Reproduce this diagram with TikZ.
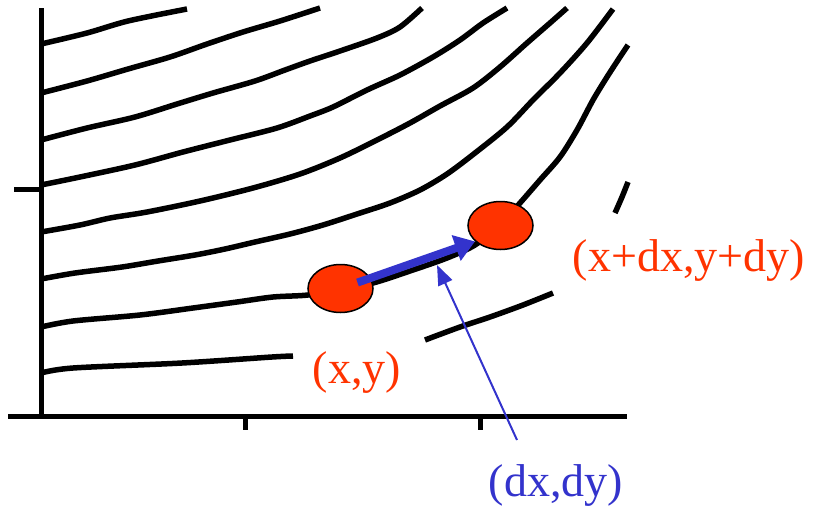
\documentclass[tikz,border=0pt]{standalone}
\usepackage{fontspec}
\setmainfont{Liberation Serif}
\usepackage{tikz}
\usetikzlibrary{arrows.meta,shapes.geometric}

\definecolor{dotred}{RGB}{255,51,0}
\definecolor{stepblue}{RGB}{51,51,204}

\begin{document}
\begin{tikzpicture}[
  x=1pt, y=-1pt,
  font=\fontsize{46}{52}\selectfont,
  axis/.style={line width=5pt},
  level/.style={line width=5.5pt, smooth, tension=0.5},
  dot/.style={draw, ellipse, fill=dotred, line width=1.5pt,
    minimum width=65pt, minimum height=48pt, inner sep=0pt},
  lbl/.style={inner sep=0pt},
  bigarrow/.style={stepblue, line width=8pt,
    -{Triangle[length=20pt,width=26pt]}},
  thinarrow/.style={stepblue, line width=2pt,
    -{Triangle[length=20pt,width=15pt]}},
]
  \useasboundingbox (0,0) rectangle (814,509);

  % axes and ticks
  \draw[axis] (41,8) -- (41,418);
  \draw[axis] (8,416) -- (627,416);
  \draw[axis] (14,189) -- (41,189);
  \draw[axis] (245,416) -- (245,430);
  \draw[axis] (480,416) -- (480,430);

  % level curves
  \draw[level] plot coordinates {(41,44) (87,33) (128,21) (187,9)};
  \draw[level] plot coordinates {(41,93) (87,81) (128,69) (170,57) (207,44)
    (243,32) (280,21) (320,8)};
  \draw[level] plot coordinates {(41,140) (87,128) (135,117) (177,104)
    (213,93) (255,81) (285,70) (310,61) (340,51) (377,38) (400,27) (422,8)};
  \draw[level] plot coordinates {(41,185) (80,177) (135,165) (183,152)
    (230,140) (277,128) (310,116) (333,107) (367,90) (400,75) (433,57)
    (460,40) (483,23) (507,8)};
  \draw[level] plot coordinates {(41,232) (80,225) (110,218) (147,212)
    (200,201) (253,188) (300,174) (340,158) (377,140) (410,123) (440,106)
    (473,88) (500,67) (527,43) (550,23) (567,8)};
  \draw[level] plot coordinates {(41,279) (75,273) (122,267) (158,261)
    (195,255) (225,249) (255,242) (290,234) (323,225) (357,214) (390,203)
    (420,190) (447,174) (475,153) (507,127) (533,100) (560,73) (587,43)
    (613,9)};
  \draw[level] plot coordinates {(41,327) (73,321) (140,315) (193,308)
    (237,302) (273,297) (308,295) (340,289) (373,283) (410,271) (447,258)
    (475,245) (500,225) (520,203) (540,180) (560,157) (577,130) (593,100)
    (607,77) (620,57) (628,45)};
  \draw[level] plot coordinates {(41,373) (73,368) (182,363) (272,357)
    (293,356)};
  \draw[level] plot coordinates {(425,340) (460,327) (490,317) (523,305)
    (553,293)};
  \draw[level] plot coordinates {(615,213) (622,197) (628,182)};

  % the two points
  \node[dot] (ptA) at (340.5,288.5) {};
  \node[dot] (ptB) at (500.5,225.5) {};

  \node[lbl, text=dotred] (lblA) at (357,372) {(x,y)};
  \node[lbl, text=dotred] (lblB) at (689,261) {(x+dx,y+dy)};
  \node[lbl, text=stepblue] (lblD) at (556,485) {(dx,dy)};

  \draw[bigarrow, shorten <=18pt] (ptA.center) -- (ptB.212);

  \coordinate (tail) at (517,440);
  \coordinate (tip) at (437,265);
  \draw[thinarrow] (tail) -- (tip);
\end{tikzpicture}
\end{document}
